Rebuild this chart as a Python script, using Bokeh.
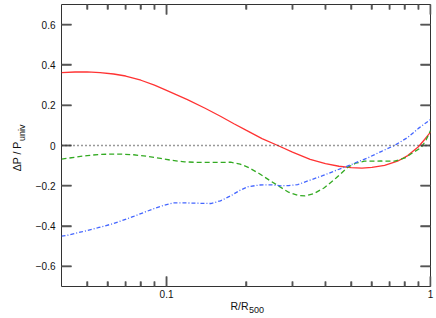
import math
from bokeh.plotting import figure
from bokeh.models import FixedTicker, Span, CustomJSTickFormatter, Title, LogAxis, LinearAxis
from bokeh.embed import file_html
from bokeh.resources import INLINE

# ---- data (R/R500, deltaP/Puniv) ----
red_x = [0.040, 0.045, 0.050, 0.056, 0.063, 0.070, 0.080, 0.090, 0.100, 0.120,
         0.140, 0.160, 0.180, 0.200, 0.230, 0.264, 0.300, 0.350, 0.400, 0.450,
         0.500, 0.550, 0.600, 0.670, 0.750, 0.820, 0.900, 0.950, 1.000]
red_y = [0.362, 0.365, 0.366, 0.362, 0.355, 0.345, 0.324, 0.300, 0.274, 0.228,
         0.185, 0.145, 0.108, 0.076, 0.034, 0.000, -0.033, -0.069, -0.090, -0.103,
         -0.110, -0.112, -0.109, -0.099, -0.078, -0.050, -0.006, 0.030, 0.066]

green_x = [0.040, 0.045, 0.050, 0.055, 0.060, 0.068, 0.075, 0.085, 0.095, 0.105,
           0.117, 0.130, 0.150, 0.175, 0.190, 0.205, 0.225, 0.245, 0.265, 0.290,
           0.315, 0.335, 0.360, 0.396, 0.440, 0.486, 0.520, 0.562, 0.650, 0.730,
           0.800, 0.845, 0.922, 0.960, 1.000]
green_y = [-0.068, -0.058, -0.050, -0.045, -0.043, -0.043, -0.046, -0.054, -0.064, -0.074,
           -0.081, -0.084, -0.084, -0.083, -0.092, -0.110, -0.140, -0.172, -0.200, -0.232,
           -0.248, -0.250, -0.240, -0.210, -0.160, -0.108, -0.088, -0.078, -0.077, -0.078,
           -0.062, -0.041, -0.010, 0.025, 0.074]

blue_x = [0.040, 0.042, 0.048, 0.055, 0.062, 0.068, 0.075, 0.083, 0.091, 0.100,
          0.106, 0.118, 0.135, 0.147, 0.160, 0.175, 0.190, 0.203, 0.225, 0.249,
          0.271, 0.290, 0.314, 0.353, 0.390, 0.432, 0.500, 0.579, 0.650, 0.730,
          0.820, 0.900, 1.000]
blue_y = [-0.450, -0.446, -0.428, -0.408, -0.390, -0.372, -0.352, -0.330, -0.310, -0.293,
          -0.285, -0.285, -0.287, -0.288, -0.275, -0.250, -0.222, -0.205, -0.196, -0.195,
          -0.200, -0.199, -0.194, -0.170, -0.150, -0.127, -0.095, -0.061, -0.030, 0.000,
          0.040, 0.085, 0.129]

x_range = (0.04, 1.0)
y_range = (-0.7, 0.7)
x_major = [0.1, 1.0]
x_minor = [0.05, 0.06, 0.07, 0.08, 0.09, 0.2, 0.3, 0.4, 0.5, 0.6, 0.7, 0.8, 0.9]
y_ticks = [-0.6, -0.4, -0.2, 0, 0.2, 0.4, 0.6]
x_title, x_title_sub = "R/R", "500"
y_title, y_title_sub = "\u0394P / P", "univ"

FONT = "Liberation Sans"
TICK_COLOR = "#555555"
TEXT_COLOR = "#111111"

W, H = 436, 318
BL, BR, BT, BB = 61, 6, 4, 32
FRAME_W, FRAME_H = W - BL - BR, H - BT - BB
MAJOR, MINOR = 10, 5

p = figure(width=W, height=H, x_axis_type="log",
           x_range=x_range, y_range=y_range,
           output_backend="svg", toolbar_location=None,
           min_border_left=BL, min_border_right=BR,
           min_border_top=BT, min_border_bottom=BB)
p.grid.visible = False
p.outline_line_color = "#333333"
p.outline_line_width = 1
p.background_fill_color = "white"
p.border_fill_color = "white"

xfmt = CustomJSTickFormatter(code="return tick.toString();")
yfmt = CustomJSTickFormatter(code="return tick === 0 ? '0' : tick.toFixed(1).replace('-', '\u2212');")
empty = CustomJSTickFormatter(code="return '';")


def style(ax):
    ax.axis_line_color = None
    ax.major_tick_line_color = TICK_COLOR
    ax.minor_tick_line_color = TICK_COLOR
    ax.major_tick_line_width = 1.5
    ax.minor_tick_line_width = 1.5
    ax.major_tick_in = MAJOR
    ax.minor_tick_in = MINOR
    ax.major_tick_out = 0
    ax.minor_tick_out = 0
    ax.major_label_text_font = FONT
    ax.major_label_text_font_size = "10px"
    ax.major_label_text_color = TEXT_COLOR


bx = p.xaxis[0]
bx.ticker = FixedTicker(ticks=x_major, minor_ticks=x_minor)
bx.formatter = xfmt
style(bx)
bx.major_label_standoff = 3

ly = p.yaxis[0]
ly.ticker = FixedTicker(ticks=y_ticks)
ly.formatter = yfmt
style(ly)
ly.major_label_standoff = 6

top = LogAxis(ticker=FixedTicker(ticks=x_major, minor_ticks=x_minor), formatter=empty)
style(top)
top.major_label_standoff = 0
p.add_layout(top, "above")

right = LinearAxis(ticker=FixedTicker(ticks=y_ticks), formatter=empty)
style(right)
right.major_label_standoff = 0
p.add_layout(right, "right")


def title(text, size, align, valign, offset, standoff):
    return Title(text=text, align=align, vertical_align=valign, offset=offset,
                 standoff=standoff, text_font=FONT, text_font_size=size,
                 text_font_style="normal", text_color=TEXT_COLOR)


# axis titles with real subscripts (stacked side-panel titles)
p.add_layout(title(x_title, "10.5px", "left", "top", 169, -2), "below")
p.add_layout(title(x_title_sub, "9px", "left", "top", 187.5, -11), "below")
p.add_layout(title(y_title_sub, "9px", "left", "bottom", 145.5, 12), "left")
p.add_layout(title(y_title, "10.5px", "right", "bottom", 137, -28), "left")

# inward tick marks also as segments at the tick values (inside the frame)
EPS = 1e-6
x_lo, x_hi = x_range[0] * (1 + EPS), x_range[1] * (1 - EPS)
y_lo, y_hi = y_range[0] + EPS, y_range[1] - EPS
DY_PER_PX = (y_range[1] - y_range[0]) / FRAME_H
FX_PER_PX = (x_range[1] / x_range[0]) ** (1.0 / FRAME_W)


def seg(x0, y0, x1, y1):
    p.segment(x0=x0, y0=y0, x1=x1, y1=y1, line_color=TICK_COLOR, line_width=1.5)


xm = [min(max(v, x_lo), x_hi) for v in x_major]
seg(xm, [y_lo] * len(xm), xm, [y_lo + MAJOR * DY_PER_PX] * len(xm))
seg(xm, [y_hi] * len(xm), xm, [y_hi - MAJOR * DY_PER_PX] * len(xm))
seg(x_minor, [y_lo] * len(x_minor), x_minor, [y_lo + MINOR * DY_PER_PX] * len(x_minor))
seg(x_minor, [y_hi] * len(x_minor), x_minor, [y_hi - MINOR * DY_PER_PX] * len(x_minor))
seg([x_lo] * len(y_ticks), y_ticks, [x_lo * FX_PER_PX ** MAJOR] * len(y_ticks), y_ticks)
seg([x_hi] * len(y_ticks), y_ticks, [x_hi / FX_PER_PX ** MAJOR] * len(y_ticks), y_ticks)

p.add_layout(Span(location=0, dimension="width", line_color="#333333",
                  line_dash="1 3", line_width=1.5))

p.line(red_x, red_y, line_color="#ff3333", line_width=1.3)
p.line(green_x, green_y, line_color="#33aa22", line_width=1.3, line_dash="5 3")
p.line(blue_x, blue_y, line_color="#4466ff", line_width=1.3, line_dash="4 2 1 2")

open("out.html", "w").write(file_html(p, INLINE))
